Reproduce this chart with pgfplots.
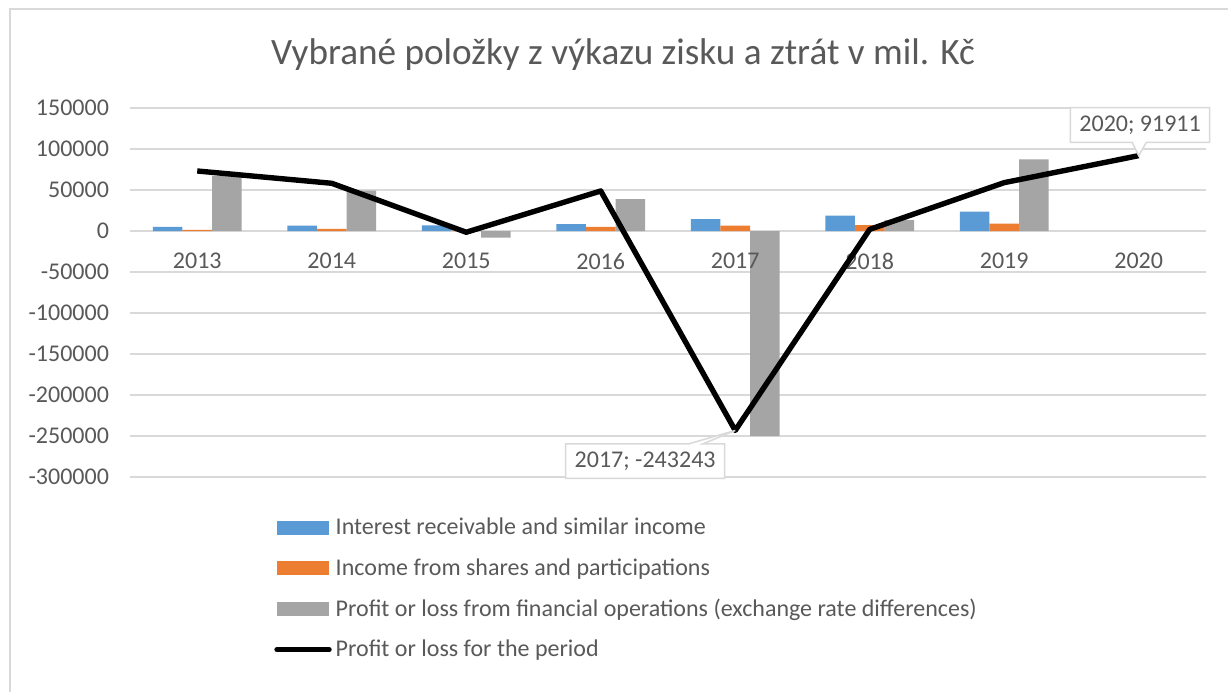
\documentclass[border=0pt]{standalone}
\usepackage{pgfplots}
\pgfplotsset{compat=1.18}
\usepackage{fontspec}
\setmainfont{Carlito}
\usetikzlibrary{shapes.callouts}
\definecolor{cblue}{HTML}{5B9BD5}
\definecolor{corange}{HTML}{ED7D31}
\definecolor{cgray}{HTML}{A5A5A5}
\definecolor{gridc}{HTML}{D9D9D9}
\definecolor{txt}{HTML}{595959}
\tikzset{xlab/.style={anchor=north, yshift=-7.5pt, text=txt, font=\fontsize{12}{14}\selectfont}}
\begin{document}
\begin{tikzpicture}
\useasboundingbox (0,0) rectangle (614pt,346pt);
\fill[white] (0,0) rectangle (614pt,346pt);
\draw[gridc, line width=0.75pt] (5pt,0) -- (5pt,341.5pt) -- (614pt,341.5pt);
\node[text=txt, font=\fontsize{18.6}{22}\selectfont] at (311.5pt,318.5pt) {Vybrané položky z výkazu zisku a ztrát v mil. Kč};
\begin{axis}[
  at={(65pt,107.5pt)}, anchor=south west, scale only axis,
  width=538pt, height=184.5pt,
  xmin=-0.5, xmax=7.5, ymin=-300000, ymax=150000,
  ytick={-300000,-250000,-200000,-150000,-100000,-50000,0,50000,100000,150000},
  yticklabels={-300000,-250000,-200000,-150000,-100000,-50000,0,50000,100000,150000},
  xtick=\empty,
  axis x line=middle, axis y line=left,
  axis line style={draw=none,-},
  hide obscured x ticks=false, hide obscured y ticks=false,
  ymajorgrids, grid style={gridc, line width=0.75pt},
  major tick length=0pt,
  scaled y ticks=false,
  tick label style={text=txt, font=\fontsize{12}{14}\selectfont},
  yticklabel style={xshift=-7pt},
  clip=false,
  legend style={at={(0.1282,-0.089)}, anchor=north west, draw=none, fill=none,
    font=\fontsize{12}{14}\selectfont, text=txt, row sep=6.3pt,
    cells={anchor=west}},
]
\addplot[ybar, bar width=0.22, bar shift=-0.22, fill=cblue, draw=none,
  legend image code/.code={\fill[cblue] (0pt,-3.5pt) rectangle (26pt,3.5pt);}]
  coordinates {(0,5000) (1,6500) (2,7000) (3,8500) (4,14600) (5,18700) (6,23600)};
\addplot[ybar, bar width=0.22, bar shift=0, fill=corange, draw=none,
  legend image code/.code={\fill[corange] (0pt,-3.5pt) rectangle (26pt,3.5pt);}]
  coordinates {(0,1500) (1,2500) (2,600) (3,4900) (4,6500) (5,7300) (6,8900)};
\addplot[ybar, bar width=0.22, bar shift=0.22, fill=cgray, draw=none,
  legend image code/.code={\fill[cgray] (0pt,-3.5pt) rectangle (26pt,3.5pt);}]
  coordinates {(0,67100) (1,49200) (2,-8200) (3,39000) (4,-250000) (5,13400) (6,87500)};
\node[xlab] at (axis cs:0,0) {2013};
\node[xlab] at (axis cs:1,0) {2014};
\node[xlab] at (axis cs:2,0) {2015};
\node[xlab] at (axis cs:3,0) {2016};
\node[xlab] at (axis cs:4,0) {2017};
\node[xlab] at (axis cs:5,0) {2018};
\node[xlab] at (axis cs:6,0) {2019};
\node[xlab] at (axis cs:7,0) {2020};
\addplot[black, line width=2.7pt, line join=round, mark=none,
  legend image code/.code={\draw[black, line width=2.7pt, line cap=round] (0pt,0pt) -- (26pt,0pt);}]
  coordinates {(0,73200) (1,58200) (2,-1500) (3,48800) (4,-243243) (5,2000) (6,59000) (7,91911)};
\legend{Interest receivable and similar income,
  Income from shares and participations,
  Profit or loss from financial operations (exchange rate differences),
  Profit or loss for the period}
\node[rectangle callout, draw=gridc, fill=white, text=txt, font=\fontsize{12}{14}\selectfont,
  inner xsep=4.5pt, inner ysep=4pt, line width=0.75pt,
  callout absolute pointer={(axis cs:7,91911)}] at (axis cs:7.01,129300) {2020; 91911};
\node[rectangle callout, draw=gridc, fill=white, text=txt, font=\fontsize{12}{14}\selectfont,
  inner xsep=4.5pt, inner ysep=4pt, line width=0.75pt,
  callout absolute pointer={(axis cs:4,-243243)}] at (axis cs:3.33,-280600) {2017; -243243};
\end{axis}
\end{tikzpicture}
\end{document}
